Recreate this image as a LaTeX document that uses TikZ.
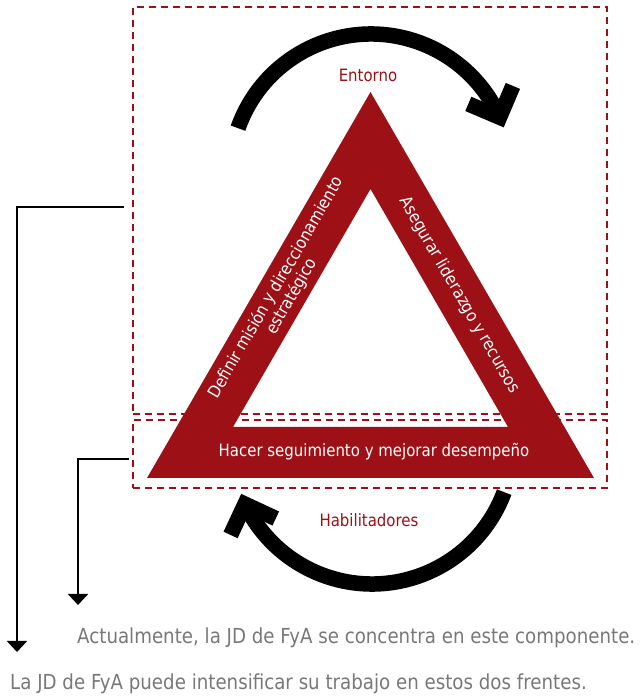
\documentclass[tikz,border=0pt]{standalone}
\usepackage{fontspec}
\setmainfont{DejaVu Sans}[FakeStretch=0.88]
\usepackage{tikz}
\usetikzlibrary{positioning, calc, arrows.meta}
\definecolor{fyared}{RGB}{157,16,22}
\definecolor{fyagray}{RGB}{120,120,120}

\begin{document}
\begin{tikzpicture}[x=1pt, y=1pt,
    zone/.style={draw=fyared, line width=2pt, dash pattern=on 7pt off 5pt, minimum width=474pt, inner sep=0pt},
    side/.style={text=white, font=\fontsize{17}{18}\selectfont, inner sep=0pt},
    tag/.style={text=fyared, font=\fontsize{17}{18}\selectfont, anchor=base, inner sep=0pt},
    note/.style={text=fyagray, font=\fontsize{20.7}{24}\selectfont, anchor=base west, inner sep=0pt},
    cycarc/.style={line width=15.5pt},
    chev/.style={line width=15.5pt, line join=miter, line cap=butt},
    conn/.style={line width=1.8pt, -{Triangle[width=20pt, length=11pt]}}]
  \useasboundingbox (0,0) rectangle (644,697);
  % focus zones
  \node[zone, minimum height=407pt] (upper) at (370,486.5) {};
  \node[zone, minimum height=68pt] (lower) at (370,243) {};
  % triangle
  \fill[fyared, even odd rule] (147,219) -- (370.5,605) -- (594,219) -- cycle
                               (233,270) -- (370.5,508) -- (508,270) -- cycle;
  \node[side, rotate=60, align=center] (mision) at (284,405) {Definir misión y direccionamiento\\estratégico};
  \node[side, rotate=-60] (recursos) at (459.5,402) {Asegurar liderazgo y recursos};
  \node[side, anchor=base] (seguim) at (374,240) {Hacer seguimiento y mejorar desempeño};
  \node[tag] (entorno) at (368,615) {Entorno};
  \node[tag] (habil) at (369,170) {Habilitadores};
  % cycle arrows
  \coordinate (ctop) at (371,522);
  \coordinate (cbot) at (372,254);
  \draw[cycarc] ($(ctop)+(160.6:141)$) arc[start angle=160.6, end angle=24.2, radius=141] coordinate (tipT);
  \draw[chev] ($(tipT)+(157:34)$) -- (tipT) -- ($(tipT)+(67:34)$);
  \draw[cycarc] ($(cbot)+(-20.4:141)$) arc[start angle=-20.4, end angle=-154.3, radius=141] coordinate (tipB);
  \draw[chev] ($(tipB)+(245:34)$) -- (tipB) -- ($(tipB)+(335:34)$);
  % notes
  \node[note] (actual) at (77,53) {Actualmente, la JD de FyA se concentra en este componente.};
  \node[note] (frentes) at (10,7) {La JD de FyA puede intensificar su trabajo en estos dos frentes.};
  \coordinate (tipfar) at (17,45);
  \coordinate (tipnear) at (78,92);
  \draw[conn] ([xshift=-8pt, yshift=3.5pt]upper.west) -| (tipfar);
  \draw[conn] ([xshift=-3pt, yshift=-5pt]lower.west) -| (tipnear);
\end{tikzpicture}
\end{document}
